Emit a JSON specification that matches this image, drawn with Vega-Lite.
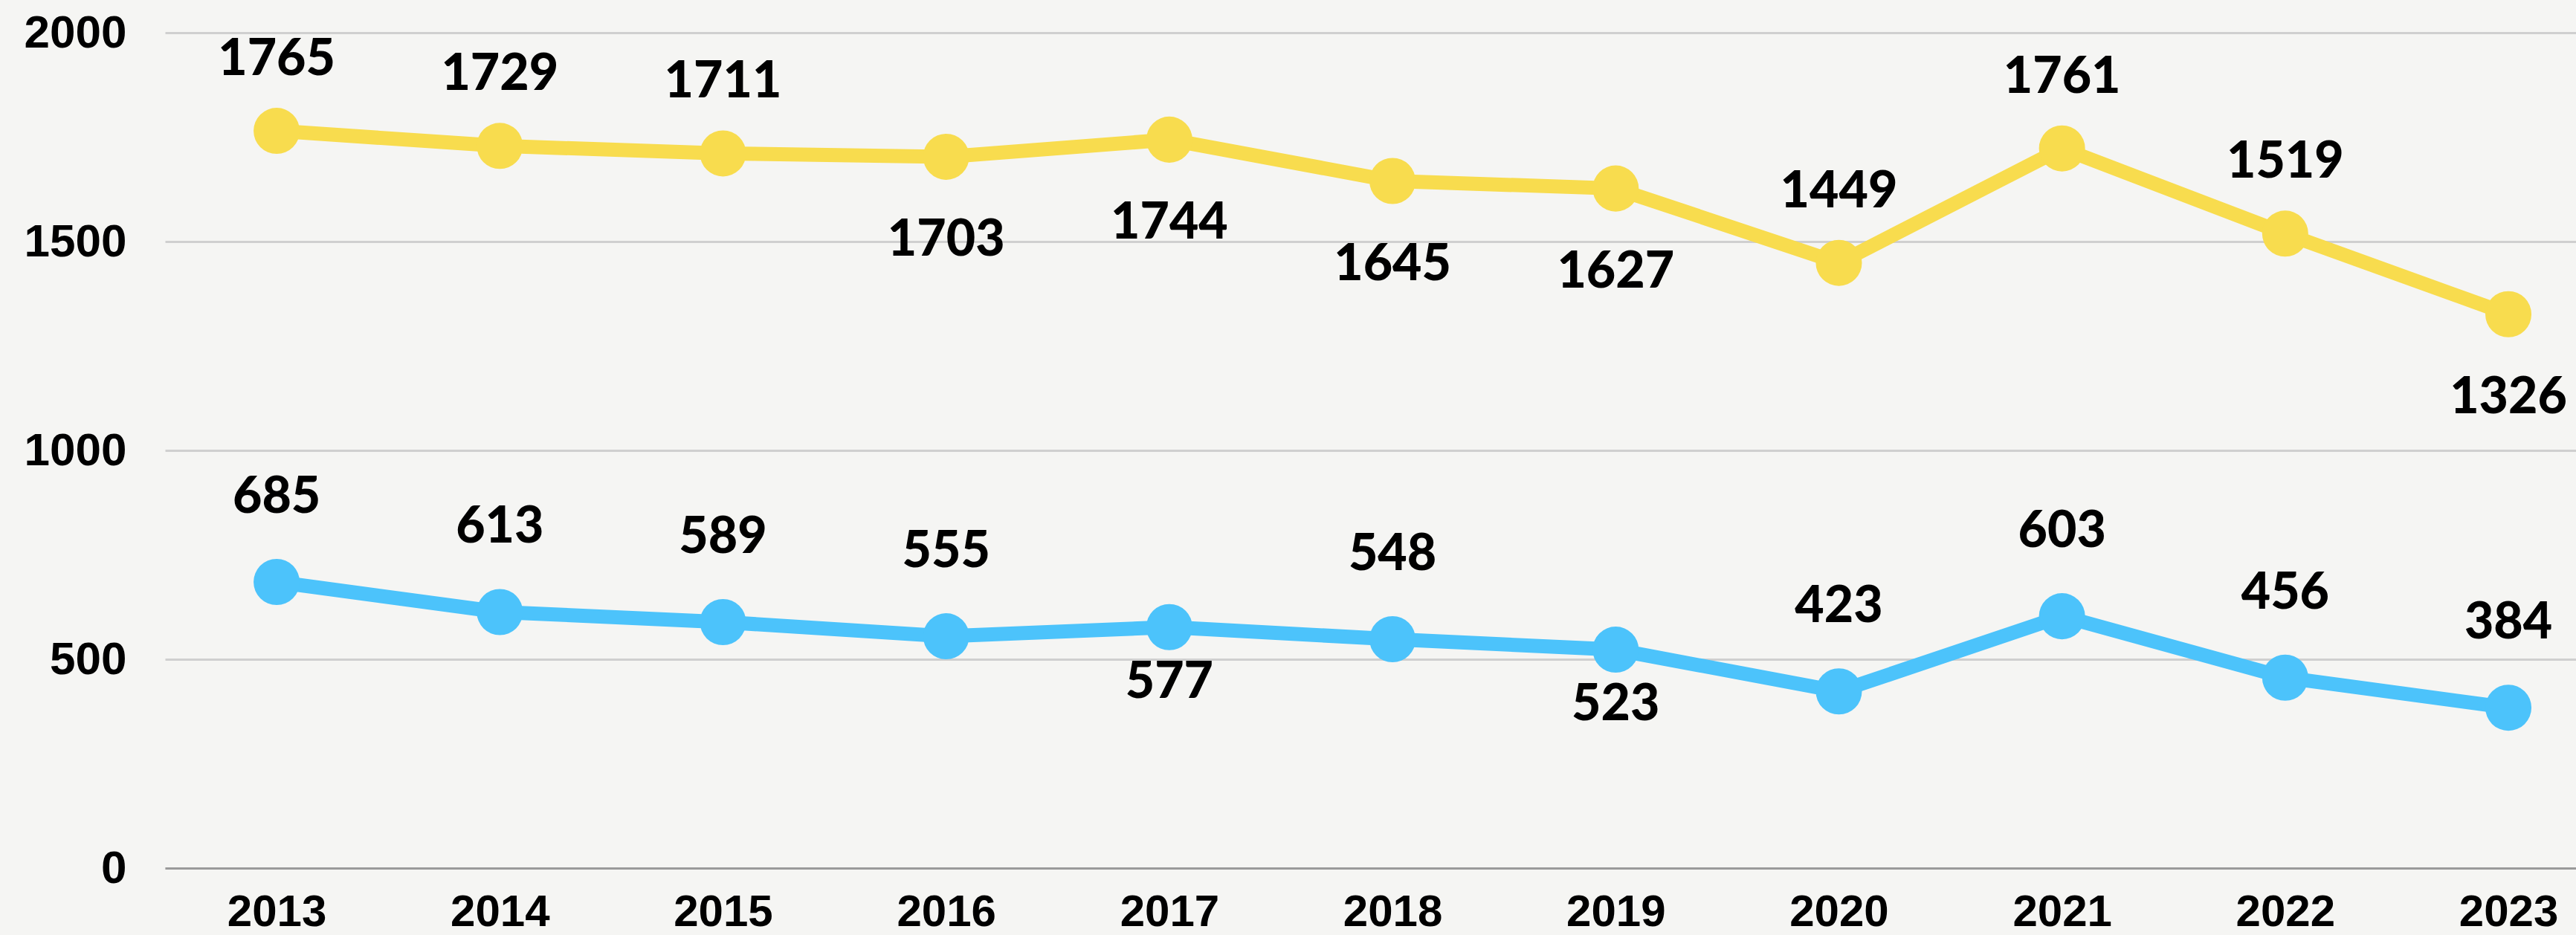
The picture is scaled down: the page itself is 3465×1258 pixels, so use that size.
{
  "$schema": "https://vega.github.io/schema/vega-lite/v6.json",
  "width": 3243,
  "height": 1124,
  "autosize": {"type": "none"},
  "padding": {"left": 222, "top": 44, "right": 0, "bottom": 90},
  "background": "#f5f5f3",
  "config": {"view": {"stroke": null}},
  "data": {
    "values": [
      {"year": 2013, "series": "Series 1", "value": 1765, "label": "1765"},
      {"year": 2014, "series": "Series 1", "value": 1729, "label": "1729"},
      {"year": 2015, "series": "Series 1", "value": 1711, "label": "1711"},
      {"year": 2016, "series": "Series 1", "value": 1703, "label": "1703"},
      {"year": 2017, "series": "Series 1", "value": 1744, "label": "1744"},
      {"year": 2018, "series": "Series 1", "value": 1645, "label": "1645"},
      {"year": 2019, "series": "Series 1", "value": 1627, "label": "1627"},
      {"year": 2020, "series": "Series 1", "value": 1449, "label": "1449"},
      {"year": 2021, "series": "Series 1", "value": 1723, "label": "1761"},
      {"year": 2022, "series": "Series 1", "value": 1519, "label": "1519"},
      {"year": 2023, "series": "Series 1", "value": 1326, "label": "1326"},
      {"year": 2013, "series": "Series 2", "value": 685, "label": "685"},
      {"year": 2014, "series": "Series 2", "value": 613, "label": "613"},
      {"year": 2015, "series": "Series 2", "value": 589, "label": "589"},
      {"year": 2016, "series": "Series 2", "value": 555, "label": "555"},
      {"year": 2017, "series": "Series 2", "value": 577, "label": "577"},
      {"year": 2018, "series": "Series 2", "value": 548, "label": "548"},
      {"year": 2019, "series": "Series 2", "value": 523, "label": "523"},
      {"year": 2020, "series": "Series 2", "value": 423, "label": "423"},
      {"year": 2021, "series": "Series 2", "value": 603, "label": "603"},
      {"year": 2022, "series": "Series 2", "value": 456, "label": "456"},
      {"year": 2023, "series": "Series 2", "value": 384, "label": "384"}
    ]
  },
  "encoding": {
    "x": {
      "field": "year",
      "type": "quantitative",
      "scale": {"domain": [2012.5, 2023.303], "nice": false, "zero": false},
      "axis": {
        "values": [2013, 2014, 2015, 2016, 2017, 2018, 2019, 2020, 2021, 2022, 2023],
        "format": "d",
        "grid": false,
        "ticks": false,
        "tickSize": 0,
        "domain": true,
        "domainColor": "#9a9a9a",
        "domainWidth": 3,
        "labelFontSize": 60,
        "labelFont": "Liberation Sans",
        "labelFontWeight": "bold",
        "labelColor": "#000000",
        "labelPadding": 30,
        "labelFlush": false,
        "labelOverlap": false,
        "title": null
      }
    },
    "y": {
      "field": "value",
      "type": "quantitative",
      "scale": {"domain": [0, 2000], "nice": false},
      "axis": {
        "values": [0, 500, 1000, 1500, 2000],
        "format": "d",
        "grid": true,
        "gridColor": "#cfcfcf",
        "gridWidth": 3,
        "ticks": false,
        "tickSize": 0,
        "domain": false,
        "labelFontSize": 62,
        "labelFont": "Liberation Sans",
        "labelFontWeight": "bold",
        "labelColor": "#000000",
        "labelPadding": 52,
        "labelOverlap": false,
        "title": null
      }
    },
    "color": {
      "field": "series",
      "type": "nominal",
      "scale": {"domain": ["Series 1", "Series 2"], "range": ["#F8DC4E", "#4CC3FB"]},
      "legend": null
    }
  },
  "layer": [
    {"mark": {"type": "line", "strokeWidth": 19}},
    {"mark": {"type": "circle", "size": 3850, "opacity": 1}},
    {
      "transform": [{"filter": "datum.series == 'Series 1' && indexof([2016, 2017, 2018, 2019, 2023], datum.year) < 0"}],
      "mark": {"type": "text", "dy": -95, "fontSize": 68, "font": "Lato", "fontWeight": 900},
      "encoding": {"text": {"field": "label"}, "color": {"value": "#000000"}}
    },
    {
      "transform": [{"filter": "datum.series == 'Series 1' && indexof([2016, 2017, 2018, 2019, 2023], datum.year) >= 0"}],
      "mark": {"type": "text", "dy": 113, "fontSize": 68, "font": "Lato", "fontWeight": 900},
      "encoding": {"text": {"field": "label"}, "color": {"value": "#000000"}}
    },
    {
      "transform": [{"filter": "datum.series == 'Series 2' && indexof([2017, 2019], datum.year) < 0"}],
      "mark": {"type": "text", "dy": -113, "fontSize": 68, "font": "Lato", "fontWeight": 900},
      "encoding": {"text": {"field": "label"}, "color": {"value": "#000000"}}
    },
    {
      "transform": [{"filter": "datum.series == 'Series 2' && indexof([2017, 2019], datum.year) >= 0"}],
      "mark": {"type": "text", "dy": 75, "fontSize": 68, "font": "Lato", "fontWeight": 900},
      "encoding": {"text": {"field": "label"}, "color": {"value": "#000000"}}
    }
  ]
}
